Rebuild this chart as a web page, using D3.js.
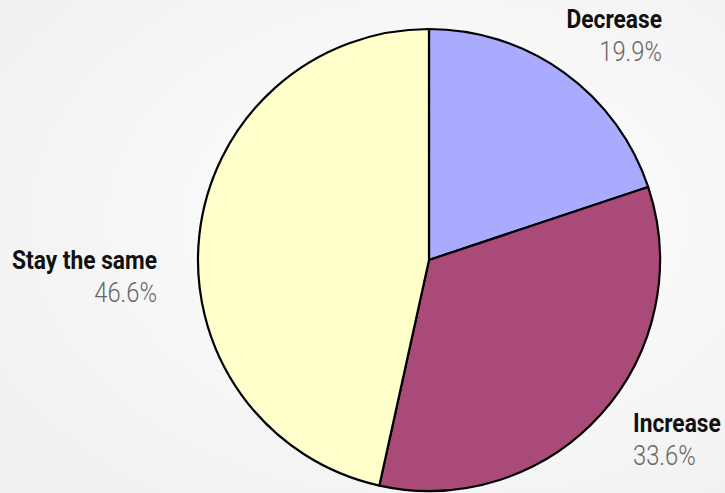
<!DOCTYPE html>
<html><head><meta charset="utf-8">
<script src="https://cdn.jsdelivr.net/npm/d3@7"></script>
<style>html,body{margin:0;padding:0;background:#f4f4f4;}svg{display:block;}</style>
</head><body>
<svg id="c" width="725" height="493"></svg>
<script>
const categories = ["Decrease", "Increase", "Stay the same"];
const values = [19.9, 33.6, 46.6];
const colors = ["#aaaaff", "#a94a78", "#ffffcc"];

const W = 725, H = 493, cx = 429, cy = 260, R = 231;
const svg = d3.select("#c");
const defs = svg.append("defs");
const g = defs.append("radialGradient").attr("id","bg").attr("cx","60%").attr("cy","45%").attr("r","75%");
g.append("stop").attr("offset","0%").attr("stop-color","#ffffff");
g.append("stop").attr("offset","100%").attr("stop-color","#f0f0f0");
svg.append("rect").attr("width",W).attr("height",H).attr("fill","url(#bg)");

const pie = d3.pie().sort(null).value(d => d)(values);
const arc = d3.arc().innerRadius(0).outerRadius(R);
const root = svg.append("g").attr("transform",`translate(${cx},${cy})`);
root.selectAll("path").data(pie).join("path")
  .attr("d", arc).attr("fill",(d,i)=>colors[i])
  .attr("stroke","#000").attr("stroke-width",2.2).attr("stroke-linejoin","round");

// label layout (anchor per side)
const layout = [
  {x: 662, y: 28, anchor: "end"},
  {x: 633, y: 432, anchor: "start"},
  {x: 157, y: 269, anchor: "end"}
];
const font = "'Roboto', sans-serif";
categories.forEach((c,i) => {
  const L = layout[i];
  svg.append("text").attr("transform",`translate(${L.x},${L.y}) scale(0.91,1)`).attr("text-anchor",L.anchor)
    .attr("font-family",font).attr("font-weight","bold").attr("font-size",25).attr("fill","#111").text(c);
  svg.append("text").attr("transform",`translate(${L.x},${L.y+33}) scale(0.88,1)`).attr("text-anchor",L.anchor)
    .attr("font-family",font).attr("font-weight",300).attr("font-size",27).attr("fill","#666")
    .text(d3.format(".1f")(values[i]) + "%");
});
</script>
</body></html>
